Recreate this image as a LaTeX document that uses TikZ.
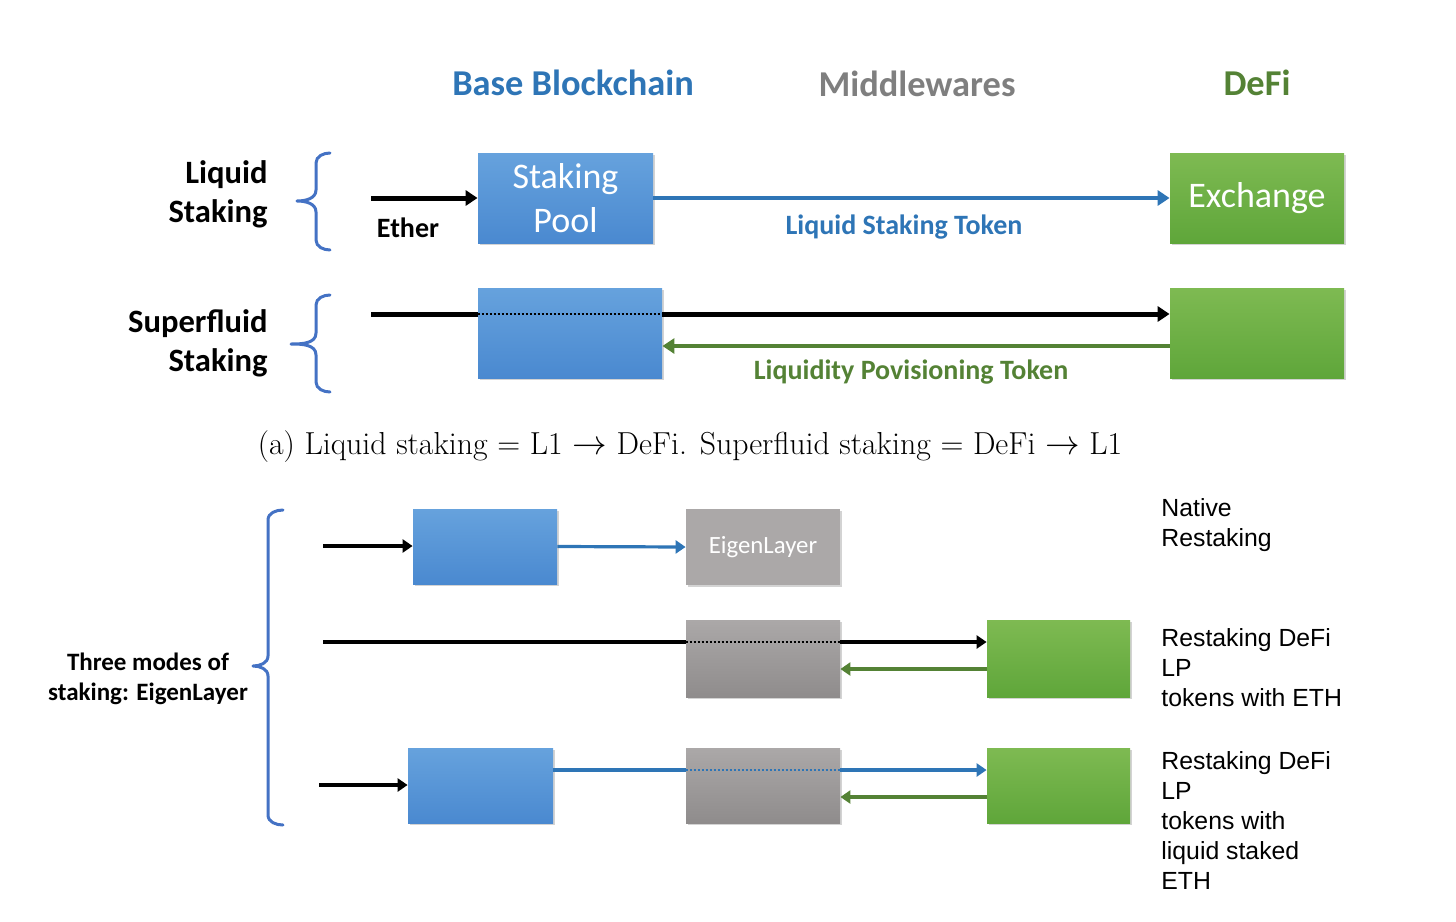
\documentclass[tikz,border=0pt]{standalone}
\usepackage{fontspec}
\usetikzlibrary{arrows.meta,shadows,fit,calc}
\newfontfamily\calfont{Carlito}
\newfontfamily\arfont{Liberation Sans}
\definecolor{hblue}{HTML}{2E75B6}
\definecolor{hgray}{HTML}{7F7F7F}
\definecolor{hgreen}{HTML}{548235}
\definecolor{bT}{HTML}{66A2DD}
\definecolor{bB}{HTML}{4A89D0}
\definecolor{gT}{HTML}{7EBA52}
\definecolor{gB}{HTML}{5FA63A}
\definecolor{grT}{HTML}{ABA8A8}
\definecolor{grB}{HTML}{8F8C8C}
\definecolor{brc}{HTML}{4472C4}
\definecolor{arblue}{HTML}{2E75B6}
\definecolor{argreen}{HTML}{548235}
\begin{document}
\begin{tikzpicture}[x=0.5pt,y=-0.5pt,
 box/.style={rectangle, inner sep=0pt, draw=none, drop shadow={opacity=0.35, shadow xshift=1.2pt, shadow yshift=-1.2pt}},
 bluebox/.style={box, top color=bT, bottom color=bB},
 greenbox/.style={box, top color=gT, bottom color=gB},
 graybox/.style={box, top color=grT, bottom color=grB},
 head/.style={font=\calfont\bfseries\fontsize{18.2}{22}\selectfont},
 side/.style={font=\calfont\bfseries\fontsize{16.3}{19.5}\selectfont, align=right, anchor=east, inner sep=0pt},
 boxtxt/.style={text=white, font=\calfont\fontsize{18}{22}\selectfont, align=center},
 toklbl/.style={font=\calfont\bfseries\fontsize{14}{17}\selectfont},
 rtxt/.style={font=\arfont\fontsize{12.4}{15}\selectfont, align=left, anchor=west, inner sep=0pt},
 tipa/.style={-{Triangle[length=6pt,width=7.5pt]}},
 tipb/.style={-{Triangle[length=5pt,width=6.5pt]}},
 blk/.style={line width=2.5pt, black},
 bl/.style={line width=2pt, arblue},
 gr/.style={line width=2pt, argreen},
 blk2/.style={line width=2pt, black},
 bl2/.style={line width=1.6pt, arblue},
 gr2/.style={line width=1.6pt, argreen},
 dots/.style={line width=1.3pt, dash pattern=on 1pt off 1pt},
 brace/.style={brc, line width=1.5pt, line join=round, line cap=round},
]
\useasboundingbox (0,0) rectangle (1456,921);

% headers
\node[head, text=hblue] (h1) at (573,83) {Base Blockchain};
\node[head, text=hgray] (h2) at (917,84) {Middlewares};
\node[head, text=hgreen] (h3) at (1257,83) {DeFi};

% ---------- row 1: liquid staking
\node[side] (ls) at (268,194) {Liquid\\Staking};
\draw[brace] (330,153) to[out=180,in=90] (316,163) -- (316,190) to[out=-90,in=0] (297,201) to[out=0,in=90] (316,212) -- (316,240) to[out=-90,in=180] (330,250);
\node[bluebox, fit={(478,153) (653,243)}] (pool) {};
\node[boxtxt] (pooltxt) at (pool.center) {Staking\\Pool};
\node[greenbox, fit={(1170,153) (1344,243)}] (ex) {};
\node[boxtxt] (extxt) at (ex.center) {Exchange};
\coordinate (s1) at (371,198);
\draw[blk, tipa] (s1) -- (s1 -| pool.west);
\node[toklbl] (ether) at (408,228) {Ether};
\draw[bl, tipa] (pool.east) -- (ex.west);
\node[toklbl, text=hblue] (lst) at (904,227) {Liquid Staking Token};

% ---------- row 2: superfluid staking
\node[side] (sf) at (268,343) {Superfluid\\Staking};
\draw[brace] (330,295) to[out=180,in=90] (316,305) -- (316,333) to[out=-90,in=0] (291,344) to[out=0,in=90] (316,355) -- (316,382) to[out=-90,in=180] (330,392);
\node[bluebox, fit={(478,288) (662,378)}] (sfpool) {};
\node[greenbox, fit={(1170,288) (1344,378)}] (sfex) {};
\coordinate (s2) at (371,314);
\draw[blk] (s2) -- (s2 -| sfpool.west);
\draw[dots] (s2 -| sfpool.west) -- (s2 -| sfpool.east);
\draw[blk, tipa] (s2 -| sfpool.east) -- (s2 -| sfex.west);
\coordinate (g2) at (0,346);
\draw[gr, tipa] (g2 -| sfex.west) -- (g2 -| sfpool.east);
\node[toklbl, text=hgreen] (lpt) at (911,372) {Liquidity Povisioning Token};

% caption
\node[font=\fontsize{15.9}{19}\selectfont] (cap) at (690,447) {(a) Liquid staking = L1 $\rightarrow$ DeFi. Superfluid staking = DeFi $\rightarrow$ L1};

% ---------- bottom: three modes
\node[font=\calfont\bfseries\fontsize{12.5}{15}\selectfont, align=center] (three) at (148,679) {Three modes of\\staking: EigenLayer};
\draw[brace] (283,510) to[out=180,in=90] (268,520) -- (268,656) to[out=-90,in=0] (253,666) to[out=0,in=90] (268,676) -- (268,815) to[out=-90,in=180] (283,825);

% row A
\node[bluebox, fit={(413,509) (557,584)}] (a1) {};
\node[box, fill=grT, fit={(686,509) (840,585)}] (eig) {};
\node[text=white, font=\calfont\fontsize{12.4}{15}\selectfont] (eigtxt) at (eig.center) {EigenLayer};
\coordinate (sa) at (323,546);
\draw[blk2, tipb] (sa) -- (sa -| a1.west);
\draw[bl2, tipb] (a1.east) -- (eig.west);
\node[rtxt] (nr) at (1161,525) {Native\\Restaking};

% row B
\node[graybox, fit={(686,620) (840,697)}] (b2) {};
\node[greenbox, fit={(987,620) (1130,697)}] (b3) {};
\coordinate (sb) at (323,642);
\draw[blk2] (sb) -- (sb -| b2.west);
\draw[dots] (sb -| b2.west) -- (sb -| b2.east);
\draw[blk2, tipb] (sb -| b2.east) -- (sb -| b3.west);
\coordinate (gb) at (0,669);
\draw[gr2, tipb] (gb -| b3.west) -- (gb -| b2.east);
\node[rtxt] (rb) at (1161,668) {Restaking DeFi\\LP\\tokens with ETH};

% row C
\node[bluebox, fit={(408,748) (553,823)}] (c1) {};
\node[graybox, fit={(686,748) (840,823)}] (c2) {};
\node[greenbox, fit={(987,748) (1130,823)}] (c3) {};
\coordinate (sc) at (319,785);
\draw[blk2, tipb] (sc) -- (sc -| c1.west);
\coordinate (bc) at (0,770);
\draw[bl2] (bc -| c1.east) -- (bc -| c2.west);
\draw[dots, arblue] (bc -| c2.west) -- (bc -| c2.east);
\draw[bl2, tipb] (bc -| c2.east) -- (bc -| c3.west);
\coordinate (gc) at (0,797);
\draw[gr2, tipb] (gc -| c3.west) -- (gc -| c2.east);
\node[rtxt] (rc) at (1161,821) {Restaking DeFi\\LP\\tokens with\\liquid staked\\ETH};
\end{tikzpicture}
\end{document}
